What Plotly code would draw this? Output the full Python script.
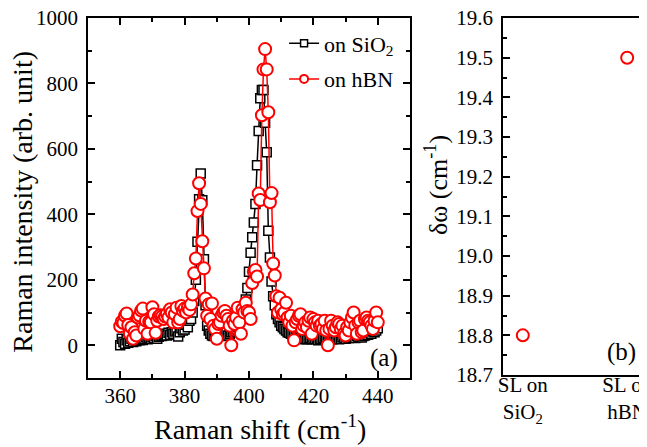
import plotly.graph_objects as go

# Raman shift grid (cm-1), 0.5 cm-1 steps
raman_shift = [
    360.0, 360.5, 361.0, 361.5, 362.0, 362.5, 363.0, 363.5, 364.0, 364.5,
    365.0, 365.5, 366.0, 366.5, 367.0, 367.5, 368.0, 368.5, 369.0, 369.5,
    370.0, 370.5, 371.0, 371.5, 372.0, 372.5, 373.0, 373.5, 374.0, 374.5,
    375.0, 375.5, 376.0, 376.5, 377.0, 377.5, 378.0, 378.5, 379.0, 379.5,
    380.0, 380.5, 381.0, 381.5, 382.0, 382.5, 383.0, 383.5, 384.0, 384.5,
    385.0, 385.5, 386.0, 386.5, 387.0, 387.5, 388.0, 388.5, 389.0, 389.5,
    390.0, 390.5, 391.0, 391.5, 392.0, 392.5, 393.0, 393.5, 394.0, 394.5,
    395.0, 395.5, 396.0, 396.5, 397.0, 397.5, 398.0, 398.5, 399.0, 399.5,
    400.0, 400.5, 401.0, 401.5, 402.0, 402.5, 403.0, 403.5, 404.0, 404.5,
    405.0, 405.5, 406.0, 406.5, 407.0, 407.5, 408.0, 408.5, 409.0, 409.5,
    410.0, 410.5, 411.0, 411.5, 412.0, 412.5, 413.0, 413.5, 414.0, 414.5,
    415.0, 415.5, 416.0, 416.5, 417.0, 417.5, 418.0, 418.5, 419.0, 419.5,
    420.0, 420.5, 421.0, 421.5, 422.0, 422.5, 423.0, 423.5, 424.0, 424.5,
    425.0, 425.5, 426.0, 426.5, 427.0, 427.5, 428.0, 428.5, 429.0, 429.5,
    430.0, 430.5, 431.0, 431.5, 432.0, 432.5, 433.0, 433.5, 434.0, 434.5,
    435.0, 435.5, 436.0, 436.5, 437.0, 437.5, 438.0, 438.5, 439.0, 439.5,
    440.0,
]

intensity_sio2 = [
    0, 20, 10, 5, 15, 8, 12, 20, 10, 15,
    12, 18, 15, 22, 16, 20, 25, 18, 22, 20,
    25, 22, 28, 20, 26, 30, 28, 32, 35, 30,
    38, 32, 40, 35, 42, 45, 27, 40, 52, 45,
    48, 63, 55, 75, 80, 100, 135, 200, 316, 446,
    525, 443, 263, 122, 60, 45, 35, 30, 28, 32,
    25, 30, 28, 35, 30, 32, 38, 30, 35, 40,
    42, 48, 55, 60, 70, 85, 100, 115, 140, 175,
    225, 283, 330, 375, 432, 550, 655, 755, 780, 780,
    680, 590, 350, 268, 195, 150, 122, 95, 80, 70,
    60, 55, 50, 45, 40, 38, 35, 32, 30, 28,
    25, 22, 20, 22, 18, 20, 18, 20, 22, 18,
    20, 18, 22, 15, 20, 18, 22, 20, 18, 20,
    22, 20, 18, 25, 20, 22, 18, 20, 25, 22,
    20, 25, 22, 28, 25, 30, 22, 28, 25, 30,
    24, 28, 30, 35, 32, 38, 35, 42, 40, 45,
    52,
]

intensity_hbn = [
    58, 72, 68, 90, 97, 62, 35, 55, 20, 40,
    30, 85, 91, 106, 112, 50, 75, 35, 72, 70,
    116, 95, 38, 75, 88, 92, 88, 80, 88, 96,
    85, 110, 100, 70, 95, 115, 70, 80, 120, 105,
    112, 100, 115, 108, 125, 155, 220, 265, 410, 495,
    432, 318, 235, 143, 90, 125, 80, 128, 60, 50,
    20, 65, 70, 90, 100, 105, 90, 80, 60, 0,
    75, 65, 85, 115, 70, 35, 110, 100, 130, 105,
    100, 80, 190, 225, 230, 210, 464, 444, 703, 843,
    905, 843, 712, 437, 465, 250, 213, 150, 100, 145,
    110, 95, 100, 130, 85, 70, 90, 60, 15, 70,
    80, 90, 95, 50, 60, 70, 55, 75, 85, 35,
    80, 70, 60, 75, 60, 65, 50, 75, 45, 0,
    50, 75, 60, 45, 55, 70, 65, 50, 60, 35,
    30, 55, 45, 70, 85, 100, 60, 35, 70, 75,
    40, 45, 80, 85, 75, 70, 60, 50, 75, 100,
    70,
]

samples = ["SL on<br>SiO<sub>2</sub>", "SL on<br>hBN"]
sample_pos = [0, 1]
delta_omega = [18.8, 19.5]

FONT = "Liberation Serif, Times New Roman, serif"
RED = "#ff0000"

fig = go.Figure()
fig.add_trace(go.Scatter(
    x=raman_shift, y=intensity_sio2, mode="lines+markers", showlegend=False,
    line=dict(color="black", width=1.5),
    marker=dict(symbol="square", size=9, color="white",
                line=dict(color="black", width=1.5)),
    xaxis="x", yaxis="y",
))
fig.add_trace(go.Scatter(
    x=raman_shift, y=intensity_hbn, mode="lines+markers", showlegend=False,
    line=dict(color=RED, width=1.5),
    marker=dict(symbol="circle", size=12, color="white",
                line=dict(color=RED, width=2)),
    xaxis="x", yaxis="y",
))
# legend-only entries with the small symbols of the original legend
fig.add_trace(go.Scatter(
    x=[None], y=[None], mode="lines+markers", name="on SiO<sub>2</sub>",
    legendgroup="sio2",
    line=dict(color="black", width=1.5),
    marker=dict(symbol="square", size=7, color="white",
                line=dict(color="black", width=1.5)),
    xaxis="x", yaxis="y",
))
fig.add_trace(go.Scatter(
    x=[None], y=[None], mode="lines+markers", name="on hBN",
    legendgroup="hbn",
    line=dict(color=RED, width=1.5),
    marker=dict(symbol="circle", size=8, color="white",
                line=dict(color=RED, width=2)),
    xaxis="x", yaxis="y",
))
fig.add_trace(go.Scatter(
    x=sample_pos, y=delta_omega, mode="markers", showlegend=False,
    marker=dict(symbol="circle", size=12, color="white",
                line=dict(color=RED, width=2)),
    xaxis="x2", yaxis="y2",
))

tick_font = dict(family=FONT, size=21, color="black")
axis_style = dict(
    showline=True, linecolor="black", linewidth=1.5, mirror="ticks",
    ticks="inside", ticklen=7, tickwidth=1.5, tickcolor="black",
    showgrid=False, zeroline=False, ticklabelstandoff=4,
    automargin=False, tickfont=tick_font, ticklabeloverflow="allow",
)
minor_style = dict(ticks="inside", ticklen=4, tickwidth=1.5, tickcolor="black", showgrid=False)

# the page body adds an 8 px offset, so the figure is 8 px smaller than the window
fig.update_layout(
    template="none",
    width=639, height=439,
    margin=dict(l=0, r=0, t=0, b=0, pad=0),
    paper_bgcolor="white", plot_bgcolor="white",
    font=dict(family=FONT, color="black", size=21),
    showlegend=True,
    xaxis=dict(
        **{**axis_style, "ticklabelstandoff": -2}, domain=[0.1252, 0.6291], anchor="y",
        range=[350, 450], tick0=360, dtick=20,
        minor=dict(**minor_style, dtick=10),
    ),
    yaxis=dict(
        **axis_style, domain=[0.1572, 0.9772], anchor="x",
        range=[-100, 1000], tick0=0, dtick=200,
        minor=dict(**minor_style, dtick=100),
    ),
    xaxis2=dict(
        showline=True, linecolor="black", linewidth=1.5, mirror=True,
        showgrid=False, zeroline=False, ticks="", automargin=False,
        domain=[0.7746, 1.0], anchor="y2", tickfont=tick_font,
        range=[-0.19, 1.19], tickmode="array", tickvals=sample_pos, ticktext=samples,
        ticklabeloverflow="allow", ticklabelstandoff=-10,
    ),
    # overlay axis carrying only the tick between the two samples
    xaxis3=dict(
        overlaying="x2", anchor="y2", domain=[0.7746, 1.0], range=[-0.19, 1.19],
        showline=False, showgrid=False, zeroline=False, showticklabels=False,
        tickmode="array", tickvals=[0.5], ticks="inside", ticklen=7,
        tickwidth=1.5, tickcolor="black", mirror="ticks", automargin=False,
    ),
    yaxis2=dict(
        **axis_style, domain=[0.164, 0.9772], anchor="x2",
        range=[18.7, 19.6], tick0=18.7, dtick=0.1, tickformat=".1f",
        minor=dict(**minor_style, dtick=0.05),
    ),
    legend=dict(
        x=0.612, xanchor="right", y=0.967, yanchor="top", tracegroupgap=4,
        bgcolor="rgba(0,0,0,0)", font=dict(family=FONT, size=22, color="black"),
    ),
    annotations=[
        dict(text="Raman intensity (arb. unit)", textangle=-90, x=0.0235, y=0.5588,
             xref="paper", yref="paper", xanchor="center", yanchor="middle",
             showarrow=False, font=dict(size=28)),
        dict(text="Raman shift (cm<sup>-1</sup>)", x=0.3944, y=0.0455,
             xref="paper", yref="paper", xanchor="center", yanchor="middle",
             showarrow=False, font=dict(size=28)),
        dict(text="δω (cm<sup>-1</sup>)", textangle=-90, x=0.6698, y=0.5968,
             xref="paper", yref="paper", xanchor="center", yanchor="middle",
             showarrow=False, font=dict(size=26)),
        dict(text="(a)", x=447, y=-40, xref="x", yref="y", xanchor="right",
             yanchor="middle", showarrow=False, font=dict(size=25)),
        dict(text="(b)", x=1.10, y=18.758, xref="x2", yref="y2", xanchor="right",
             yanchor="middle", showarrow=False, font=dict(size=25)),
    ],
)

fig.write_html("out.html")
